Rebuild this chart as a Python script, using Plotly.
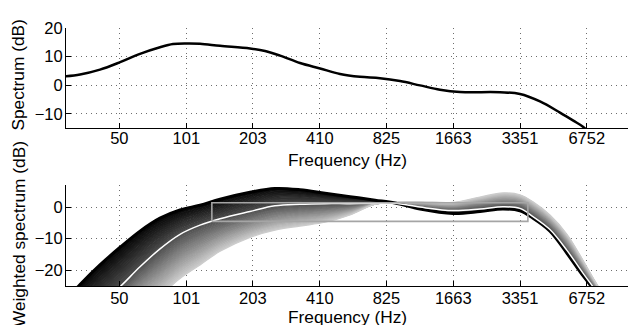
import plotly.graph_objects as go

# ---------------- data ----------------
tick_vals = [50, 101, 203, 410, 825, 1663, 3351, 6752]
tick_text = ["50", "101", "203", "410", "825", "1663", "3351", "6752"]

# top panel: spectrum
spec_freq = [26.8, 33.1, 40.8, 50.4, 62.1, 76.6, 87.8, 101.5, 116.6, 143.9, 197, 230.7, 270,
             333, 411, 507, 625, 771, 951, 1173, 1447, 1786, 2717, 3350, 4133, 5099, 5864, 6511, 7361]
spec_db = [2.86, 3.7, 5.4, 8.0, 10.9, 13.2, 14.3, 14.5, 14.4, 13.7, 12.8, 11.9, 10.3,
           7.7, 5.8, 3.9, 2.9, 2.4, 1.4, -0.1, -1.6, -2.4, -2.5, -3.1, -5.7, -9.6, -12.4, -14.6, -18.5]

# bottom panel: family of weighted spectra (dark edge, white curve, light edge)
w_freq = [29.8, 33.1, 40.8, 50.4, 62.1, 76.6, 94.5, 116.6, 143.9, 197, 256, 333, 433,
          563, 732, 903, 1173, 1659, 2202, 2803, 3350, 3840, 4590, 5487, 6490, 7361, 8617]
dark_db = [-28, -24.5, -18.3, -12.7, -7.6, -3.5, -0.9, 0.6, 2.5, 4.7, 5.9, 5.5, 4.4,
           3.3, 2.2, 1.3, -0.6, -2.0, -1.4, -0.6, -1.2, -3.5, -7.6, -14.6, -21.7, -26.5, -33]
white_db = [-40, -36, -31, -25.2, -18.9, -13.2, -8.6, -5.7, -3.7, -1.4, 0.4, 0.9, 1.1,
            1.1, 1.2, 1.2, 0.0, -1.1, -0.6, 0.1, -0.4, -3.0, -7.1, -13.7, -20.9, -26, -32]
light_db = [-50, -47, -41, -36, -32, -28, -22.6, -18.3, -14.0, -9.6, -7.3, -6.0, -4.8,
            -2.5, 0.9, 1.5, 1.7, 1.5, 3.2, 4.5, 3.9, 1.7, -2.5, -8.6, -16.8, -23.4, -31]

rect_freq = [132, 3640]
rect_db = [-4.5, 1.4]

# ---------------- figure ----------------
FONT = "Liberation Sans, Arial, Helvetica, sans-serif"
fig = go.Figure()

# top spectrum
fig.add_trace(go.Scatter(x=spec_freq, y=spec_db, mode="lines",
                         line=dict(color="black", width=2.5, shape="spline", smoothing=1.0),
                         xaxis="x", yaxis="y", hoverinfo="skip"))


def grey(g):
    v = int(round(255 * g))
    return f"rgb({v},{v},{v})"


# gradient band: strips from dark edge -> white curve -> light edge
n1, n2 = 14, 22
g_dark, g_mid, g_light = 0.02, 0.30, 0.80
layers = []
for k in range(n1 + 1):
    t = k / n1
    layers.append(([d + t * (w - d) for d, w in zip(dark_db, white_db)], g_dark + t * (g_mid - g_dark)))
for k in range(1, n2 + 1):
    t = k / n2
    layers.append(([w + t * (l - w) for w, l in zip(white_db, light_db)], g_mid + t * (g_light - g_mid)))

for i, (ys, g) in enumerate(layers):
    col = grey(g)
    fig.add_trace(go.Scatter(
        x=w_freq, y=ys, mode="lines",
        line=dict(color=col, width=1.2, shape="spline"),
        fill=None if i == 0 else "tonexty", fillcolor=col,
        xaxis="x2", yaxis="y2", hoverinfo="skip"))

# dark edge line and white curve
fig.add_trace(go.Scatter(x=w_freq, y=dark_db, mode="lines", line=dict(color="black", width=3, shape="spline"),
                         xaxis="x2", yaxis="y2", hoverinfo="skip"))
fig.add_trace(go.Scatter(x=w_freq, y=white_db, mode="lines", line=dict(color="white", width=1.5, shape="spline"),
                         xaxis="x2", yaxis="y2", hoverinfo="skip"))
# rectangle
fig.add_trace(go.Scatter(
    x=[rect_freq[0], rect_freq[1], rect_freq[1], rect_freq[0], rect_freq[0]],
    y=[rect_db[0], rect_db[0], rect_db[1], rect_db[1], rect_db[0]],
    mode="lines", line=dict(color="rgb(165,165,165)", width=1.6),
    xaxis="x2", yaxis="y2", hoverinfo="skip"))

xr = [1.4557, 4.0175]
axis_common = dict(
    showline=True, linecolor="black", linewidth=1,
    ticks="inside", ticklen=5, tickcolor="black", tickwidth=1,
    showgrid=True, gridcolor="rgb(110,110,110)", gridwidth=1, griddash="1px,4px",
    zeroline=False, tickfont=dict(family=FONT, size=16.5, color="black"),
    mirror=False,
)
xd = [66 / 628, 1.0]
fig.update_layout(
    width=628, height=325, margin=dict(l=0, r=0, t=0, b=0),
    paper_bgcolor="white", plot_bgcolor="white", showlegend=False,
    xaxis=dict(type="log", range=xr, domain=xd, anchor="y", tickvals=tick_vals, ticktext=tick_text,
               ticklabelstandoff=-5, **axis_common),
    yaxis=dict(range=[-15, 20], domain=[1 - 122.5 / 325, 1 - 19.3 / 325], anchor="x",
               tickvals=[-10, 0, 10, 20], ticklabelstandoff=-1, **axis_common),
    xaxis2=dict(type="log", range=xr, domain=xd, anchor="y2", tickvals=tick_vals, ticktext=tick_text,
                ticklabelstandoff=-3, **axis_common),
    yaxis2=dict(range=[-25, 7], domain=[1 - 285 / 325, 1 - 181 / 325], anchor="x2",
                tickvals=[-20, -10, 0], ticklabelstandoff=-1, **axis_common),
)

ann_font = dict(family=FONT, size=17.3, color="black")
fig.add_annotation(text="Frequency (Hz)", xref="paper", yref="paper", x=347 / 628, y=1 - 155 / 325,
                   xanchor="center", yanchor="middle", showarrow=False, font=ann_font)
fig.add_annotation(text="Frequency (Hz)", xref="paper", yref="paper", x=347 / 628, y=1 - 316.5 / 325,
                   xanchor="center", yanchor="middle", showarrow=False, font=ann_font)
fig.add_annotation(text="Spectrum (dB)", xref="paper", yref="paper", x=18.5 / 628, y=1 - 68 / 325,
                   xanchor="center", yanchor="middle", showarrow=False, textangle=-90, font=ann_font)
fig.add_annotation(text="Weighted spectrum (dB)", xref="paper", yref="paper", x=18.5 / 628, y=1 - 232 / 325,
                   xanchor="center", yanchor="middle", showarrow=False, textangle=-90, font=ann_font)

fig.write_html("out.html")
